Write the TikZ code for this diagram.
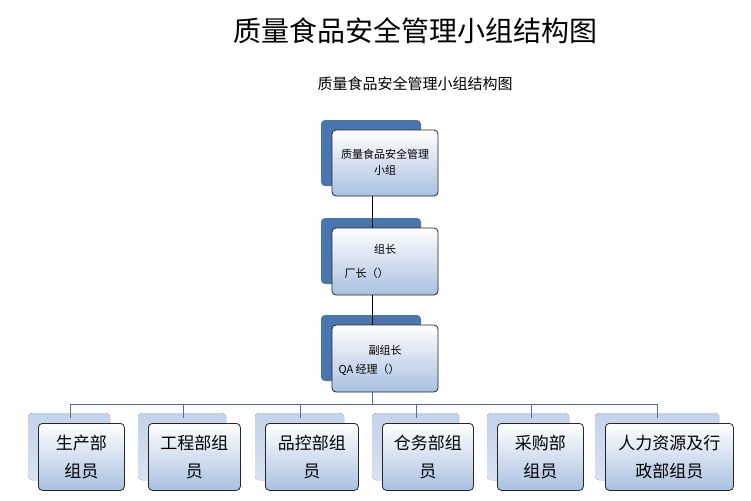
\documentclass[tikz,border=0pt]{standalone}
\usepackage{fontspec}
\setmainfont{Noto Sans CJK SC}
\definecolor{boxblue}{HTML}{A9C0E0}
\definecolor{darkblue}{HTML}{4A76B0}
\definecolor{linkblue}{HTML}{4A6FA5}
\begin{document}
\begin{tikzpicture}[x=1pt,y=-1pt,
    front/.style={draw=black!85, thick, rounded corners=4pt, top color=white, bottom color=boxblue},
    backdark/.style={fill=darkblue, rounded corners=4pt},
    backlight/.style={rounded corners=4pt, top color=boxblue!70, bottom color=boxblue!45},
    link/.style={draw=linkblue, thick}]
    \useasboundingbox (0,0) rectangle (751,500);

    %Titulos
    \node(title) at (415,31) {\fontsize{28}{32}\selectfont 质量食品安全管理小组结构图};
    \node(subtitle) at (415,84) {\fontsize{15}{18}\selectfont 质量食品安全管理小组结构图};

    %Cajas superiores
    \fill[backdark] (321,120) rectangle (421,186);
    \node(team) [front, minimum width=106pt, minimum height=66pt] at (385,163) {};
    \node(tt) [align=center, font=\fontsize{11}{16}\selectfont] at (385,162) {质量食品安全管理\\小组};
    \fill[backdark] (321,218) rectangle (421,284);
    \node(leader) [front, minimum width=106pt, minimum height=67pt] at (385,261.5) {};
    \node(lt) at (385,249) {\fontsize{11}{13}\selectfont 组长};
    \node(lb) [anchor=west] at (341,273) {\fontsize{11}{13}\selectfont 厂长（）};
    \fill[backdark] (321,315) rectangle (421,381);
    \node(deputy) [front, minimum width=106pt, minimum height=67pt] at (385,358.5) {};
    \node(dt) at (385,350) {\fontsize{11}{13}\selectfont 副组长};
    \node(db) [anchor=west] at (335,370) {\fontsize{11}{13}\selectfont QA 经理（）};

    \draw[thick] (team.south -| 372,0) -- (leader.north -| 372,0);
    \draw[thick] (leader.south -| 372,0) -- (deputy.north -| 372,0);
    \coordinate(bus) at (372,404);
    \draw[link] (deputy.south -| 372,0) -- (bus);
    \draw[link] (70,404) -- (657,404);

    %Cajas inferiores
    \foreach \n/\xl/\xr/\xc/\txt in {
        p1/38/124/70/{生产部\\组员},
        p2/148/240/183/{工程部组\\员},
        p3/265/358/300/{品控部组\\员},
        p4/382/473/416/{仓务部组\\员},
        p5/497/583/531/{采购部\\组员},
        p6/605/733/657/{人力资源及行\\政部组员}}{
        \pgfmathsetmacro\w{\xr-\xl}
        \fill[backlight] (\xl-10,413) rectangle (\xr-14,480);
        \node(\n) [front, anchor=north west, minimum width=\w pt, minimum height=67pt,
            inner sep=0pt, align=center, font=\fontsize{17}{28}\selectfont] at (\xl,423) {\txt};
        \draw[link] (\xc,404) -- (\xc,418);
    }
\end{tikzpicture}
\end{document}
